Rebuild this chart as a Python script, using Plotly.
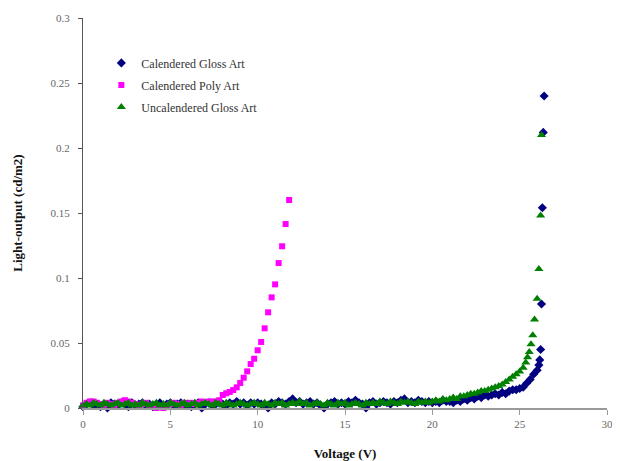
import plotly.graph_objects as go

# ---------------- data ----------------
gloss_v = [0.0, 0.2, 0.4, 0.6, 0.8, 1.0, 1.2, 1.4, 1.6, 1.8, 2.0, 2.2, 2.4, 2.6, 2.8, 3.0, 3.2, 3.4, 3.6, 3.8,
           4.0, 4.2, 4.4, 4.6, 4.8, 5.0, 5.2, 5.4, 5.6, 5.8, 6.0, 6.2, 6.4, 6.6, 6.8, 7.0, 7.2, 7.4, 7.6, 7.8,
           8.0, 8.2, 8.4, 8.6, 8.8, 9.0, 9.2, 9.4, 9.6, 9.8, 10.0, 10.2, 10.4, 10.6, 10.8, 11.0, 11.2, 11.4, 11.6, 11.8,
           12.0, 12.2, 12.4, 12.6, 12.8, 13.0, 13.2, 13.4, 13.6, 13.8, 14.0, 14.2, 14.4, 14.6, 14.8, 15.0, 15.2, 15.4, 15.6, 15.8,
           16.0, 16.2, 16.4, 16.6, 16.8, 17.0, 17.2, 17.4, 17.6, 17.8, 18.0, 18.2, 18.4, 18.6, 18.8, 19.0, 19.2, 19.4, 19.6, 19.8,
           20.0, 20.2, 20.4, 20.6, 20.8, 21.0, 21.2, 21.4, 21.6, 21.8, 22.0, 22.2, 22.4, 22.6, 22.8, 23.0, 23.2, 23.4, 23.6, 23.8,
           24.0, 24.2, 24.4, 24.6, 24.8, 25.0, 25.2, 25.4, 25.6, 25.8, 26.0, 26.1, 26.15, 26.2, 26.25, 26.3, 26.35, 26.4]
gloss_l = [0.001, 0.003, 0.004, 0.002, 0.003, 0.001, 0.003, 0.000, 0.004, 0.003, 0.002, 0.004, 0.003, 0.001, 0.004, 0.002, 0.003, 0.004, 0.002, 0.003,
           0.001, 0.003, 0.004, 0.002, 0.003, 0.004, 0.002, 0.003, 0.004, 0.002, 0.003, 0.001, 0.003, 0.004, 0.000, 0.003, 0.004, 0.002, 0.003, 0.004,
           0.003, 0.002, 0.004, 0.003, 0.005, 0.003, 0.004, 0.002, 0.004, 0.003, 0.004, 0.003, 0.002, 0.000, 0.004, 0.003, 0.005, 0.004, 0.003, 0.005,
           0.007, 0.004, 0.005, 0.003, 0.004, 0.005, 0.003, 0.004, 0.002, 0.000, 0.003, 0.004, 0.005, 0.003, 0.004, 0.003, 0.005, 0.004, 0.006, 0.004,
           0.003, 0.000, 0.004, 0.005, 0.003, 0.004, 0.005, 0.004, 0.003, 0.005, 0.004, 0.006, 0.007, 0.004, 0.005, 0.004, 0.006, 0.005, 0.004, 0.005,
           0.004, 0.005, 0.004, 0.006, 0.005, 0.005, 0.004, 0.006, 0.005, 0.007, 0.006, 0.008, 0.007, 0.009, 0.008, 0.010, 0.009, 0.010, 0.011, 0.010,
           0.012, 0.011, 0.013, 0.014, 0.014, 0.015, 0.016, 0.019, 0.022, 0.026, 0.029, 0.033, 0.037, 0.045, 0.080, 0.154, 0.212, 0.240]

poly_v = [0.0, 0.2, 0.4, 0.6, 0.8, 1.0, 1.2, 1.4, 1.6, 1.8, 2.0, 2.2, 2.4, 2.6, 2.8, 3.0, 3.2, 3.4, 3.6, 3.8,
          4.0, 4.2, 4.4, 4.6, 4.8, 5.0, 5.2, 5.4, 5.6, 5.8, 6.0, 6.2, 6.4, 6.6, 6.8, 7.0, 7.2, 7.4, 7.6, 7.8,
          8.0, 8.2, 8.4, 8.6, 8.8, 9.0, 9.2, 9.4, 9.6, 9.8, 10.0, 10.2, 10.4, 10.6, 10.8, 11.0, 11.2, 11.4, 11.6, 11.8]
poly_l = [0.002, 0.004, 0.005, 0.005, 0.004, 0.003, 0.002, 0.004, 0.003, 0.002, 0.004, 0.005, 0.006, 0.005, 0.004, 0.003, 0.002, 0.003, 0.004, 0.002,
          0.001, 0.000, 0.001, 0.000, 0.002, 0.003, 0.004, 0.003, 0.002, 0.004, 0.003, 0.004, 0.003, 0.004, 0.005, 0.004, 0.005, 0.005, 0.005, 0.006,
          0.010, 0.0113, 0.0123, 0.0138, 0.0159, 0.0192, 0.0233, 0.0282, 0.0338, 0.0379, 0.0444, 0.0508, 0.0613, 0.0736, 0.0851, 0.0951, 0.1115, 0.1244, 0.1415, 0.160]

uncal_v = [0.0, 0.2, 0.4, 0.6, 0.8, 1.0, 1.2, 1.4, 1.6, 1.8, 2.0, 2.2, 2.4, 2.6, 2.8, 3.0, 3.2, 3.4, 3.6, 3.8,
           4.0, 4.2, 4.4, 4.6, 4.8, 5.0, 5.2, 5.4, 5.6, 5.8, 6.0, 6.2, 6.4, 6.6, 6.8, 7.0, 7.2, 7.4, 7.6, 7.8,
           8.0, 8.2, 8.4, 8.6, 8.8, 9.0, 9.2, 9.4, 9.6, 9.8, 10.0, 10.2, 10.4, 10.6, 10.8, 11.0, 11.2, 11.4, 11.6, 11.8,
           12.0, 12.2, 12.4, 12.6, 12.8, 13.0, 13.2, 13.4, 13.6, 13.8, 14.0, 14.2, 14.4, 14.6, 14.8, 15.0, 15.2, 15.4, 15.6, 15.8,
           16.0, 16.2, 16.4, 16.6, 16.8, 17.0, 17.2, 17.4, 17.6, 17.8, 18.0, 18.2, 18.4, 18.6, 18.8, 19.0, 19.2, 19.4, 19.6, 19.8,
           20.0, 20.2, 20.4, 20.6, 20.8, 21.0, 21.2, 21.4, 21.6, 21.8, 22.0, 22.2, 22.4, 22.6, 22.8, 23.0, 23.2, 23.4, 23.6, 23.8,
           24.0, 24.2, 24.4, 24.6, 24.8, 25.0, 25.2, 25.35, 25.45, 25.55, 25.65, 25.75, 25.85, 26.0, 26.1, 26.2, 26.25]
uncal_l = [0.002, 0.003, 0.002, 0.004, 0.003, 0.002, 0.004, 0.003, 0.002, 0.003, 0.004, 0.002, 0.003, 0.004, 0.002, 0.003, 0.002, 0.004, 0.003, 0.002,
           0.003, 0.004, 0.002, 0.003, 0.002, 0.004, 0.003, 0.002, 0.003, 0.004, 0.002, 0.003, 0.004, 0.002, 0.003, 0.004, 0.003, 0.002, 0.004, 0.003,
           0.002, 0.004, 0.003, 0.002, 0.003, 0.004, 0.003, 0.002, 0.003, 0.004, 0.003, 0.002, 0.004, 0.003, 0.002, 0.004, 0.003, 0.004, 0.002, 0.003,
           0.004, 0.003, 0.005, 0.003, 0.004, 0.002, 0.003, 0.004, 0.003, 0.002, 0.004, 0.003, 0.002, 0.004, 0.003, 0.004, 0.002, 0.003, 0.004, 0.003,
           0.002, 0.004, 0.003, 0.004, 0.003, 0.005, 0.004, 0.003, 0.005, 0.004, 0.003, 0.005, 0.004, 0.005, 0.004, 0.003, 0.005, 0.004, 0.005, 0.004,
           0.005, 0.006, 0.005, 0.007, 0.006, 0.007, 0.008, 0.007, 0.009, 0.009, 0.010, 0.011, 0.011, 0.012, 0.013, 0.013, 0.014, 0.015, 0.016, 0.017,
           0.018, 0.020, 0.022, 0.024, 0.026, 0.028, 0.031, 0.035, 0.039, 0.043, 0.049, 0.056, 0.068, 0.084, 0.107, 0.148, 0.210]

x_ticks = [0, 5, 10, 15, 20, 25, 30]
x_ticktext = ["0", "5", "10", "15", "20", "25", "30"]
y_ticks = [0, 0.05, 0.1, 0.15, 0.2, 0.25, 0.3]
y_ticktext = ["0", "0.05", "0.1", "0.15", "0.2", "0.25", "0.3"]

SERIF = "Liberation Serif"

fig = go.Figure()
fig.add_trace(go.Scatter(x=gloss_v, y=gloss_l, mode="markers", name="Calendered Gloss Art",
                         legendgroup="a", cliponaxis=False,
                         marker=dict(symbol="diamond", size=7, color="#000080")))
fig.add_trace(go.Scatter(x=poly_v, y=poly_l, mode="markers", name="Calendered Poly Art",
                         legendgroup="b", cliponaxis=False,
                         marker=dict(symbol="square", size=6, color="#FF00FF")))
fig.add_trace(go.Scatter(x=uncal_v, y=uncal_l, mode="markers", name="Uncalendered Gloss Art",
                         legendgroup="c", cliponaxis=False,
                         marker=dict(symbol="triangle-up", size=8, color="#008000")))

# the page adds an 8 px body margin, so the figure is 8 px smaller and shifted
fig.update_layout(
    width=612, height=453,
    margin=dict(l=75, r=13, t=10, b=53),
    paper_bgcolor="white", plot_bgcolor="white",
    font=dict(family=SERIF, size=12, color="#222222"),
    showlegend=True,
    legend=dict(x=0.035, y=0.922, xanchor="left", yanchor="top",
                bgcolor="rgba(0,0,0,0)", font=dict(family=SERIF, size=12, color="#333333"),
                tracegroupgap=3, traceorder="grouped"),
    xaxis=dict(range=[0, 30], tickvals=x_ticks, ticktext=x_ticktext,
               showgrid=False, zeroline=False, showline=True, linecolor="#9a9a9a", linewidth=1.5,
               ticks="outside", ticklen=5, tickcolor="#9a9a9a",
               tickfont=dict(family=SERIF, size=11, color="#666666"),
               title=dict(text="<b>Voltage (V)</b>", font=dict(family=SERIF, size=13, color="#111111"), standoff=21),
               automargin=False),
    yaxis=dict(range=[0, 0.3], tickvals=y_ticks, ticktext=y_ticktext,
               showgrid=False, zeroline=False, showline=True, linecolor="#555555", linewidth=1,
               ticks="outside", ticklen=4, tickcolor="#555555",
               tickfont=dict(family=SERIF, size=11, color="#666666"), ticklabelstandoff=6,
               title=dict(text="<b>Light-output (cd/m2)</b>", font=dict(family=SERIF, size=13, color="#111111"), standoff=24),
               automargin=False),
)

fig.write_html("out.html", post_script="document.body.style.overflow='hidden';")
